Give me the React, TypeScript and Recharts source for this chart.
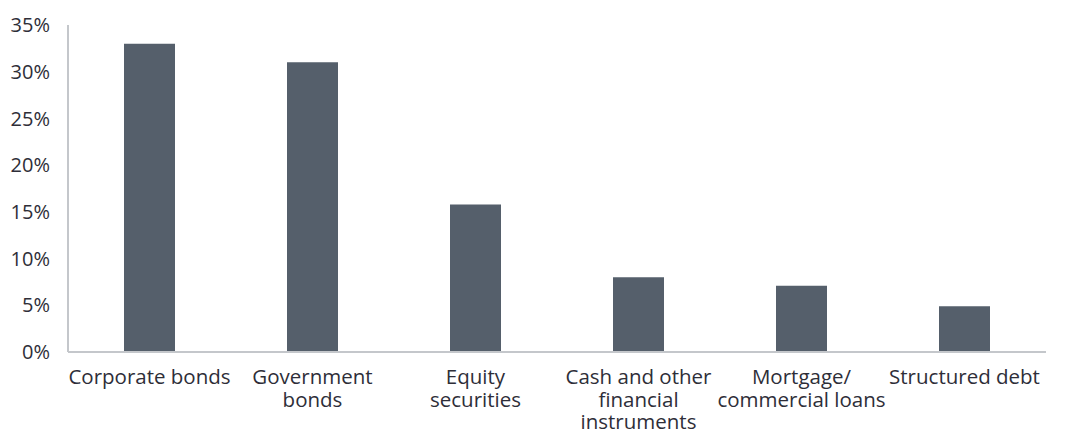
import React from 'react';
import { BarChart, Bar, XAxis, YAxis } from 'recharts';

const categories = [
  'Corporate bonds',
  'Government\nbonds',
  'Equity\nsecurities',
  'Cash and other\nfinancial\ninstruments',
  'Mortgage/\ncommercial loans',
  'Structured debt',
];
const shares = [33.0, 31.0, 15.8, 8.0, 7.1, 4.9];
const yTicks = [0, 5, 10, 15, 20, 25, 30, 35];

const data = categories.map((name, i) => ({ name, value: shares[i] }));

const FONT = '"Open Sans", sans-serif';
const TEXT = '#2e2e38';

function CategoryTick(props: any) {
  const { x, y, payload } = props;
  const lines = String(payload.value).split('\n');
  return (
    <g>
      {lines.map((line: string, i: number) => (
        <text
          key={i}
          x={x}
          y={y + 32 + i * 22.5}
          textAnchor="middle"
          fontFamily={FONT}
          fontSize={20.5}
          fill={TEXT}
        >
          {line}
        </text>
      ))}
    </g>
  );
}

export default function App(): React.JSX.Element {
  return (
    <div style={{ position: 'absolute', left: 0, top: 0, width: 1069, height: 434, background: '#fff' }}>
      <BarChart
        width={1069}
        height={434}
        data={data}
        margin={{ top: 25, right: 23, bottom: 0, left: 0 }}
      >
        <XAxis
          dataKey="name"
          height={82}
          interval={0}
          tickLine={false}
          tickSize={0}
          tickMargin={0}
          axisLine={{ stroke: '#c4c7cb', strokeWidth: 2 }}
          tick={<CategoryTick />}
        />
        <YAxis
          width={68}
          domain={[0, 35]}
          ticks={yTicks}
          interval={0}
          tickLine={false}
          tickSize={0}
          tickMargin={18}
          axisLine={{ stroke: '#c4c7cb', strokeWidth: 2 }}
          tickFormatter={(v: number) => `${v}%`}
          tick={{ fontFamily: FONT, fontSize: 20, fill: TEXT }}
        />
        <Bar dataKey="value" fill="#555f6b" barSize={51} isAnimationActive={false} />
      </BarChart>
    </div>
  );
}
